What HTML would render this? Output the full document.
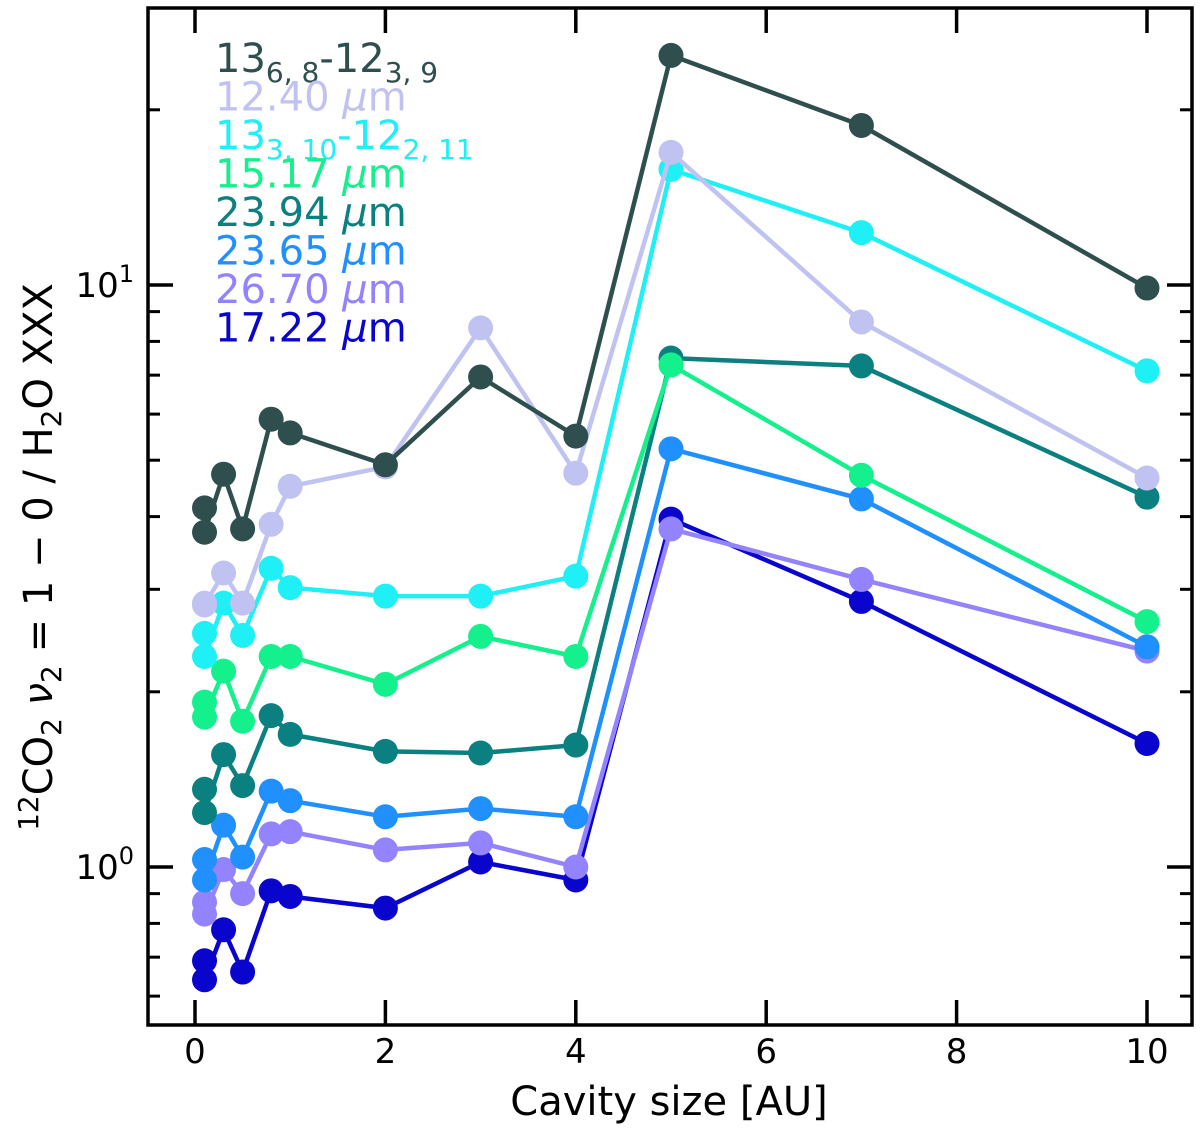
<!DOCTYPE html>
<html><head><meta charset="utf-8"><style>
body{margin:0;background:#fff;}
svg{display:block;font-family:"DejaVu Sans","Liberation Sans",sans-serif;}
</style></head><body>
<svg id="chart" width="1200" height="1130" viewBox="0 0 1200 1130" xmlns="http://www.w3.org/2000/svg"></svg>
<script>
const xValues = [0.1,0.1,0.3,0.5,0.8,1,2,3,4,5,7,10];
const seriesNames = ["13_6,8-12_3,9","12.40 µm","13_3,10-12_2,11","15.17 µm","23.94 µm","23.65 µm","26.70 µm","17.22 µm"];
const seriesColors = ["#2f4f4f","#c0c3f2","#1ef0f5","#13f08c","#0b8080","#2090ff","#9483ff","#0a05cd"];
const sDarkSlate = [4.14,3.76,4.73,3.81,5.88,5.57,4.91,6.95,5.50,24.8,18.8,9.88];
const sLavender = [2.84,2.82,3.20,2.84,3.88,4.51,4.87,8.44,4.75,16.9,8.64,4.66];
const sCyan = [2.52,2.30,2.84,2.50,3.26,3.02,2.92,2.92,3.16,15.8,12.3,7.12];
const sGreen = [1.92,1.81,2.17,1.78,2.30,2.30,2.06,2.49,2.30,7.29,4.71,2.64];
const sTeal = [1.36,1.24,1.56,1.38,1.82,1.69,1.58,1.57,1.62,7.49,7.26,4.32];
const sBlue = [1.03,0.95,1.18,1.04,1.35,1.30,1.22,1.26,1.22,5.23,4.29,2.39];
const sPurple = [0.87,0.83,0.99,0.90,1.14,1.15,1.07,1.10,1.00,3.81,3.12,2.35];
const sMedBlue = [0.69,0.64,0.78,0.66,0.91,0.89,0.85,1.02,0.95,3.96,2.86,1.63];
const xTicks = [0,2,4,6,8,10];

const NS="http://www.w3.org/2000/svg";
const svg=document.getElementById('chart');
const L=148,R=1192,T=8,B=1025;
const xs=v=>195+(v-0)*(1147-195)/10;
const ys=v=>867-Math.log10(v)*582;
function el(tag,attrs,parent){const e=document.createElementNS(NS,tag);for(const k in attrs)e.setAttribute(k,attrs[k]);(parent||svg).appendChild(e);return e;}

const allSeries=[sDarkSlate,sLavender,sCyan,sGreen,sTeal,sBlue,sPurple,sMedBlue];
for(let s=allSeries.length-1;s>=0;s--){
  const g=el('g',{});
  
  
  const d=allSeries[s].map((v,i)=>(i?'L':'M')+xs(xValues[i]).toFixed(1)+' '+ys(v).toFixed(1)).join(' ');
  const p=el('path',{d:d,fill:'none',stroke:seriesColors[s],'stroke-width':4.5,'stroke-linejoin':'round'},g);
  
  
  allSeries[s].forEach((v,i)=>{
    const c=el('circle',{cx:xs(xValues[i]),cy:ys(v),r:12.5,fill:seriesColors[s]},g);
    
    
  });
}
const frame=el('rect',{x:L,y:T,width:R-L,height:B-T,fill:'none',stroke:'#000','stroke-width':3.5});


xTicks.forEach(t=>{
  const x=xs(t);
  el('line',{x1:x,y1:B,x2:x,y2:B-25,stroke:'#000','stroke-width':3.5});
  el('line',{x1:x,y1:T,x2:x,y2:T+25,stroke:'#000','stroke-width':3.5});
  const tx=el('text',{x:x,y:B+38,'font-size':34,'text-anchor':'middle',fill:'#000'});
  tx.textContent=t;
  
  
});
for(let dec=-1;dec<=1;dec++){
  for(let m=1;m<=9;m++){
    const v=m*Math.pow(10,dec);
    const y=ys(v);
    if(y<T||y>B)continue;
    const len=m===1?25:12;
    el('line',{x1:L,y1:y,x2:L+len,y2:y,stroke:'#000','stroke-width':m===1?3.5:3});
    el('line',{x1:R,y1:y,x2:R-len,y2:y,stroke:'#000','stroke-width':m===1?3.5:3});
  }
}
[[0,867],[1,285]].forEach(([e,y])=>{
  const t=el('text',{x:134,y:y+12,'font-size':34,'text-anchor':'end',fill:'#000'});
  t.innerHTML='10<tspan dy="-15" font-size="24">'+e+'</tspan>';
  
  
});
const xt=el('text',{x:669,y:1115,'font-size':40,'text-anchor':'middle',fill:'#000'});
xt.textContent='Cavity size [AU]';


const yt=el('text',{transform:'translate(52,557) rotate(-90)','font-size':40,'text-anchor':'middle',fill:'#000'});
yt.innerHTML='<tspan dy="-14" font-size="28">12</tspan><tspan dy="14">CO</tspan><tspan dy="9" font-size="28">2</tspan><tspan dy="-9" font-style="italic"> ν</tspan><tspan dy="9" font-size="28">2</tspan><tspan dy="-9"> = 1 − 0 / H</tspan><tspan dy="9" font-size="28">2</tspan><tspan dy="-9">O XXX</tspan>';


const legendHTML=[
 '13<tspan dy="10" font-size="28">6, 8</tspan><tspan dy="-10">-12</tspan><tspan dy="10" font-size="28">3, 9</tspan>',
 '12.40 <tspan font-style="italic">μ</tspan>m',
 '13<tspan dy="10" font-size="28">3, 10</tspan><tspan dy="-10">-12</tspan><tspan dy="10" font-size="28">2, 11</tspan>',
 '15.17 <tspan font-style="italic">μ</tspan>m','23.94 <tspan font-style="italic">μ</tspan>m','23.65 <tspan font-style="italic">μ</tspan>m','26.70 <tspan font-style="italic">μ</tspan>m','17.22 <tspan font-style="italic">μ</tspan>m'];
legendHTML.forEach((h,i)=>{
  const t=el('text',{x:215,y:72+i*38.5,'font-size':40,fill:seriesColors[i]});
  t.innerHTML=h;
  
  
});
</script>
</body></html>
